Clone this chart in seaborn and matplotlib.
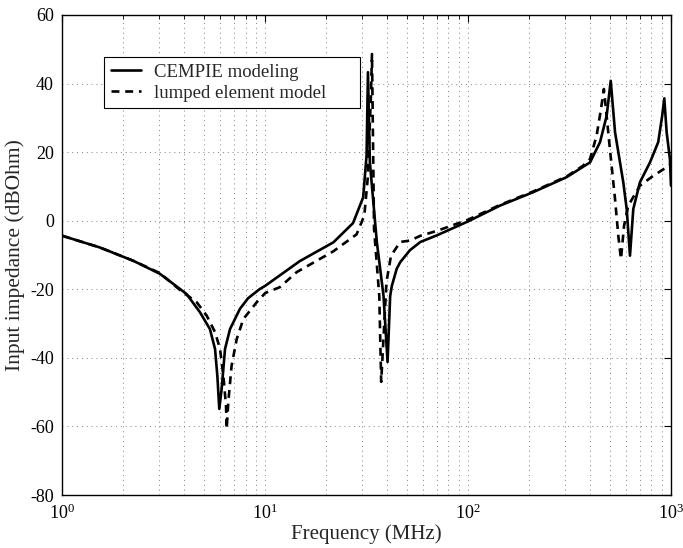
import matplotlib
matplotlib.use("Agg")
import numpy as np
import pandas as pd
import matplotlib.pyplot as plt
import seaborn as sns
from matplotlib.ticker import LogLocator, FixedLocator, NullFormatter

# ---- data ----
cempie_freq = [1, 1.53, 2.24, 3.03, 3.8, 4.1, 4.77, 5.34, 5.66, 5.81, 5.94, 6.1,
               6.34, 6.71, 7.51, 8.24, 9.42, 10, 14.8, 21.7, 27.1, 30.4, 31.6,
               32.1, 32.8, 35.5, 38.3, 40.1, 41.3, 42.1, 44.5, 46.3, 51.7, 58.2,
               70, 100, 143.6, 209, 306, 399, 447, 482, 504.6, 530, 582, 605, 628,
               652, 703, 788, 865, 905, 927, 952, 988, 1000]
cempie_z = [-4.4, -7.8, -11.7, -15.5, -19.9, -21.4, -26.7, -31.6, -37.4, -45.2,
            -54.9, -49.1, -37.4, -31.6, -25.7, -22.6, -19.9, -19.0, -11.8, -6.3,
            -0.7, 6.8, 19.0, 43.3, 17.1, -6.2, -21.9, -41.2, -22.0, -19.0, -14.0,
            -12.1, -8.6, -6.2, -4.3, -0.2, 4.4, 8.3, 12.7, 17.0, 22.9, 30.6, 40.8,
            25.8, 11.2, 3.4, -10.2, 3.4, 11.2, 17.0, 22.9, 30.6, 35.7, 25.8, 18.0,
            10.2]

lumped_freq = [1, 1.53, 2.24, 3.03, 3.8, 4.6, 5.15, 5.66, 5.99, 6.22, 6.41, 6.46,
               6.58, 6.83, 7.24, 7.8, 9.08, 10, 11.8, 14.3, 21.7, 28.2, 30.8,
               32.0, 33.2, 33.6, 34.4, 36.5, 37.3, 39.6, 41.7, 46.3, 51.7, 58.2,
               70, 100, 143.6, 209, 306, 368, 399, 430, 452, 467, 478, 500, 530,
               550, 567, 587, 616, 703, 818, 952, 1000]
lumped_z = [-4.4, -7.8, -11.7, -15.3, -20.2, -23.8, -27.7, -32.5, -37.4, -45.2,
            -53.9, -60.7, -52.9, -42.3, -34.5, -28.7, -23.8, -21.1, -19.4, -15.0,
            -8.9, -4.0, 1.5, 12.2, 36.4, 48.6, -2.4, -21.9, -47.0, -17.9, -10.2,
            -6.2, -5.8, -4.4, -3.0, 0.3, 4.6, 8.5, 12.9, 16.0, 18.0, 24.8, 32.6,
            38.4, 32.6, 20.9, 6.3, -4.4, -11.2, -1.5, 4.4, 10.2, 13.1, 15.6, 16.5]

series_labels = ["CEMPIE modeling", "lumped element model"]
y_ticks = [-80, -60, -40, -20, 0, 20, 40, 60]
x_label = "Frequency (MHz)"
y_label = "Input impedance (dBOhm)"

# ---- style ----
sns.set_style("white")
plt.rcParams.update({
    "font.family": ["Liberation Serif", "DejaVu Serif"],
    "mathtext.fontset": "stix",
    "axes.unicode_minus": False,
})

df_c = pd.DataFrame({"freq": cempie_freq, "z": cempie_z})
df_l = pd.DataFrame({"freq": lumped_freq, "z": lumped_z})

fig = plt.figure(figsize=(6.83, 5.48), dpi=100)
ax = fig.add_axes([0.0912, 0.0967, 0.8912, 0.876])

sns.lineplot(data=df_c, x="freq", y="z", ax=ax, color="black", lw=1.9,
             label=series_labels[0], estimator=None, sort=False)
sns.lineplot(data=df_l, x="freq", y="z", ax=ax, color="black", lw=1.9,
             label=series_labels[1], estimator=None, sort=False)
ax.lines[1].set_dashes((3.0, 2.2))

ax.set_xscale("log")
ax.set_xlim(1, 1000)
ax.set_ylim(-80, 60)
ax.yaxis.set_major_locator(FixedLocator(y_ticks))
ax.xaxis.set_major_locator(LogLocator(base=10, numticks=10))
ax.xaxis.set_minor_locator(LogLocator(base=10, subs=np.arange(2, 10), numticks=20))
ax.xaxis.set_minor_formatter(NullFormatter())

grid_kw = dict(color="0.5", lw=0.7, ls=(0, (1, 4)))
ax.grid(which="major", axis="both", **grid_kw)
ax.grid(which="minor", axis="x", **grid_kw)

for s in ax.spines.values():
    s.set_color("black")
    s.set_linewidth(1.0)

ax.tick_params(which="both", direction="in", top=True, right=True, colors="black",
               labelsize=13)
ax.tick_params(which="major", length=5, width=0.8, pad=6)
ax.tick_params(which="minor", length=3, width=0.6)

ax.set_xlabel(x_label, fontsize=15, labelpad=1)
ax.set_ylabel(y_label, fontsize=15.5, labelpad=4)

leg = ax.legend(loc="upper left", bbox_to_anchor=(0.0685, 0.805, 0.4206, 0.1075),
                mode="expand", borderaxespad=0,
                fontsize=13.5, frameon=True, fancybox=False, framealpha=1,
                edgecolor="black", handlelength=1.6, handletextpad=0.7,
                labelspacing=0.2, borderpad=0.35)
leg.get_frame().set_linewidth(0.8)

fig.savefig("out.png", dpi=100)
